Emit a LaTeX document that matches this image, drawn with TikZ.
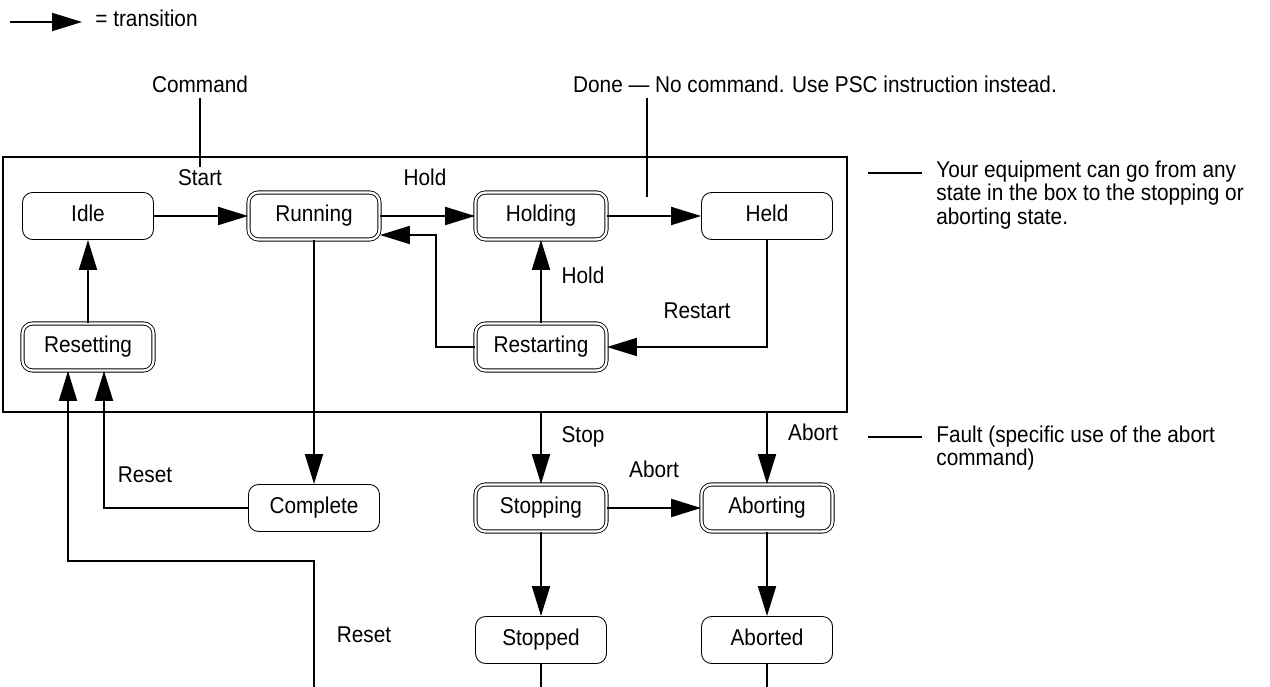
\documentclass[tikz,border=0pt]{standalone}
\usepackage{fontspec}
\setmainfont{Liberation Sans}[FakeStretch=0.91]
\usetikzlibrary{arrows.meta}

\begin{document}
\begin{tikzpicture}[x=0.2mm, y=-0.2mm,
	font=\fontsize{13}{13.2}\selectfont,
	stbox/.style={draw, line width=0.5pt, rounded corners=2mm, minimum width=26.2mm, minimum height=9.4mm, inner sep=0pt, text height=9.3pt, text depth=2.6pt},
	dbox/.style={stbox, double, double distance=1.3pt},
	trans/.style={line width=1.1pt, -{Triangle[length=6mm, width=3.6mm]}},
	lead/.style={line width=1.1pt},
	lbl/.style={inner sep=0pt, text height=9.3pt, text depth=2.6pt},
	note/.style={anchor=west, align=left, inner xsep=2.8mm, inner ysep=0pt}]
	\useasboundingbox (0,0) rectangle (1270,687);
	%legend
	\coordinate (lg1) at (10,22);
	\coordinate (lg2) at (82,22);
	\draw[trans] (lg1) -- (lg2);
	\node[lbl, anchor=west] (lgtext) at (95,21) {= transition};
	%top texts
	\node[lbl] (command) at (200,87) {Command};
	\coordinate (cmdend) at (200,167);
	\draw[lead] (command.south) -- (cmdend);
	\node[lbl] (done) at (815,87) {Done --- No command. Use PSC instruction instead.};
	\coordinate (donend) at (647,197);
	\draw[lead] (done.south -| donend) -- (donend);
	%box
	\coordinate (boxnw) at (3,157);
	\coordinate (boxse) at (847,412);
	\draw[line width=1.2pt] (boxnw) rectangle (boxse);
	%states
	\node[stbox] (idle) at (88,216) {Idle};
	\node[dbox] (running) at (314,216) {Running};
	\node[dbox] (holding) at (541,216) {Holding};
	\node[stbox] (held) at (767,216) {Held};
	\node[dbox] (restarting) at (541,347) {Restarting};
	\node[dbox] (resetting) at (88,347) {Resetting};
	\node[stbox] (complete) at (314,508) {Complete};
	\node[dbox] (stopping) at (541,508) {Stopping};
	\node[dbox] (aborting) at (767,508) {Aborting};
	\node[stbox] (stopped) at (541,640) {Stopped};
	\node[stbox] (aborted) at (767,640) {Aborted};
	%transitions in the box
	\draw[trans] (idle) -- (running);
	\draw[trans] (running) -- (holding);
	\draw[trans] (holding) -- (held);
	\draw[trans] (held.south) |- (restarting.east);
	\draw[trans] (restarting) -- (holding);
	\coordinate (rsturn) at (436,235);
	\draw[trans] (restarting.west) -| (rsturn) -- (rsturn -| running.east);
	\draw[trans] (resetting) -- (idle);
	%reset paths
	\draw[trans] (running) -- (complete);
	\coordinate (rs1) at ([xshift=3.2mm]resetting.south);
	\coordinate (rs2) at ([xshift=-4mm]resetting.south);
	\draw[trans] (complete.west) -| (rs1);
	\coordinate (rstin) at (314,687);
	\coordinate (rsturn2) at (314,561);
	\draw[trans] (rstin) -- (rsturn2) -| (rs2);
	%stop and abort
	\draw[trans] (stopping.north |- boxse) -- (stopping);
	\draw[trans] (aborting.north |- boxse) -- (aborting);
	\draw[trans] (stopping) -- (aborting);
	\draw[trans] (stopping) -- (stopped);
	\draw[trans] (aborting) -- (aborted);
	\draw[lead] (stopped) -- (stopped |- rstin);
	\draw[lead] (aborted) -- (aborted |- rstin);
	%labels
	\node[lbl] (lstart) at (200,180) {Start};
	\node[lbl] (lhold1) at (425,180) {Hold};
	\node[lbl] (lhold2) at (583,278) {Hold};
	\node[lbl] (lrestart) at (697,313) {Restart};
	\node[lbl] (lreset1) at (145,477) {Reset};
	\node[lbl] (lreset2) at (364,637) {Reset};
	\node[lbl] (lstop) at (583,437) {Stop};
	\node[lbl] (labort1) at (654,472) {Abort};
	\node[lbl] (labort2) at (813,435) {Abort};
	%notes on the right
	\node[note] (note1) at (922,195) {Your equipment can go from any\\state in the box to the stopping or\\aborting state.};
	\coordinate (n1) at (868,173);
	\draw[lead] (n1) -- (n1 -| note1.west);
	\node[note] (note2) at (922,448) {Fault (specific use of the abort\\command)};
	\coordinate (n2) at (868,437);
	\draw[lead] (n2) -- (n2 -| note2.west);
\end{tikzpicture}
\end{document}
